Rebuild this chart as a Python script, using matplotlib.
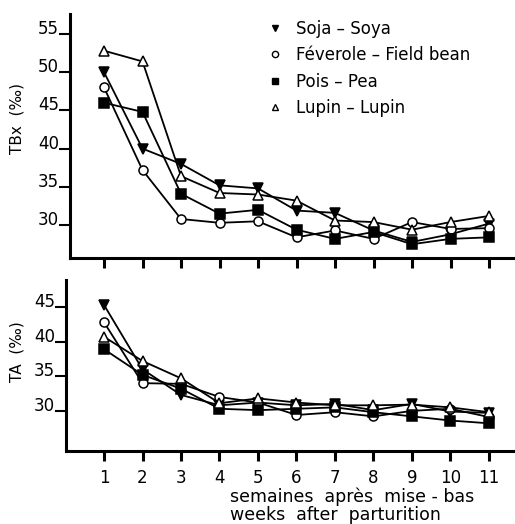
import numpy as np
import matplotlib
matplotlib.use('Agg')
import matplotlib.pyplot as plt
from matplotlib.lines import Line2D

weeks = np.arange(1, 12)
series = ['Soja – Soya', 'Féverole – Field bean', 'Pois – Pea', 'Lupin – Lupin']

# TBx (‰)
tbx_soja = [50.0, 40.0, 38.0, 35.2, 34.8, 31.9, 31.6, 29.3, 27.8, 28.8, 30.2]
tbx_feve = [48.0, 37.2, 30.8, 30.3, 30.5, 28.4, 29.3, 28.2, 30.4, 29.5, 29.6]
tbx_pois = [46.0, 44.8, 34.1, 31.5, 32.0, 29.4, 28.2, 29.1, 27.5, 28.2, 28.4]
tbx_lupin = [52.8, 51.4, 36.4, 34.2, 34.0, 33.2, 30.6, 30.4, 29.4, 30.4, 31.2]

# TA (‰)
ta_soja = [45.3, 36.0, 32.3, 30.8, 31.2, 30.8, 31.0, 30.1, 31.0, 29.9, 29.7]
ta_feve = [42.8, 34.0, 33.9, 32.0, 31.2, 29.4, 29.8, 29.2, 30.0, 30.3, 29.1]
ta_pois = [38.9, 35.2, 33.2, 30.3, 30.1, 30.3, 30.5, 29.8, 29.2, 28.6, 28.2]
ta_lupin = [40.7, 37.2, 34.7, 31.1, 31.8, 31.2, 30.8, 30.8, 30.9, 30.5, 29.8]

styles = [dict(marker='v', mfc='black'),
          dict(marker='o', mfc='white'),
          dict(marker='s', mfc='black'),
          dict(marker='^', mfc='white')]

W, H = 515, 524
fig = plt.figure(figsize=(W / 100, H / 100), dpi=100)
ax1 = fig.add_axes([70 / W, 1 - 258 / H, (W - 70) / W, 244 / H])
ax2 = fig.add_axes([66 / W, 1 - 451 / H, (W - 66) / W, 171 / H])

fs = 12


def style_axis(ax, left_px):
    for s in ['top', 'right']:
        ax.spines[s].set_visible(False)
    for s in ['left', 'bottom']:
        ax.spines[s].set_linewidth(2.2)
    ax.set_xlim(1 - (104 - left_px) / 38.5, 11 + (W - 489) / 38.5)
    ax.set_xticks(weeks)
    ax.tick_params(axis='x', direction='out', length=7, width=2.2, pad=6, labelsize=fs)
    ax.tick_params(axis='y', direction='out', length=8, width=1.5, pad=0, labelsize=fs)
    for lab in ax.get_yticklabels():
        lab.set_verticalalignment('baseline')


data1 = [tbx_soja, tbx_feve, tbx_pois, tbx_lupin]
data2 = [ta_soja, ta_feve, ta_pois, ta_lupin]
for vals, st in zip(data1, styles):
    ax1.plot(weeks, vals, color='black', lw=1.3, ms=6.5, mec='black', mew=1.1, **st)
for vals, st in zip(data2, styles):
    ax2.plot(weeks, vals, color='black', lw=1.3, ms=6.5, mec='black', mew=1.1, **st)

ax1.set_ylim(25.7, 57.6)
ax1.set_yticks([30, 35, 40, 45, 50, 55])
ax2.set_ylim(24.2, 48.9)
ax2.set_yticks([30, 35, 40, 45])
style_axis(ax1, 70)
style_axis(ax2, 66)
ax1.set_xticklabels([])

ax1.set_ylabel('TBx  (‰)', fontsize=11)
ax1.yaxis.set_label_coords((25 - 70) / (W - 70), (258 - 118) / 244)
ax2.set_ylabel('TA  (‰)', fontsize=11)
ax2.yaxis.set_label_coords((24 - 66) / (W - 66), (451 - 352) / 171)

ax2.set_xlabel('semaines  après  mise - bas\nweeks  after  parturition',
               fontsize=12.5, ha='left', linespacing=1.0)
ax2.xaxis.set_label_coords((230 - 66) / (W - 66), (451 - 488) / 171)

handles = [Line2D([], [], ls='none', color='black', ms=4.5, mec='black', mew=1.0, **st)
           for st in styles]
fig.legend(handles, series, loc='upper left', bbox_to_anchor=(269 / W, 1 - 20 / H),
           frameon=False, fontsize=fs, handlelength=0.7, handletextpad=0.9,
           labelspacing=0.5, borderpad=0, borderaxespad=0)

fig.savefig('out.png', dpi=100)
